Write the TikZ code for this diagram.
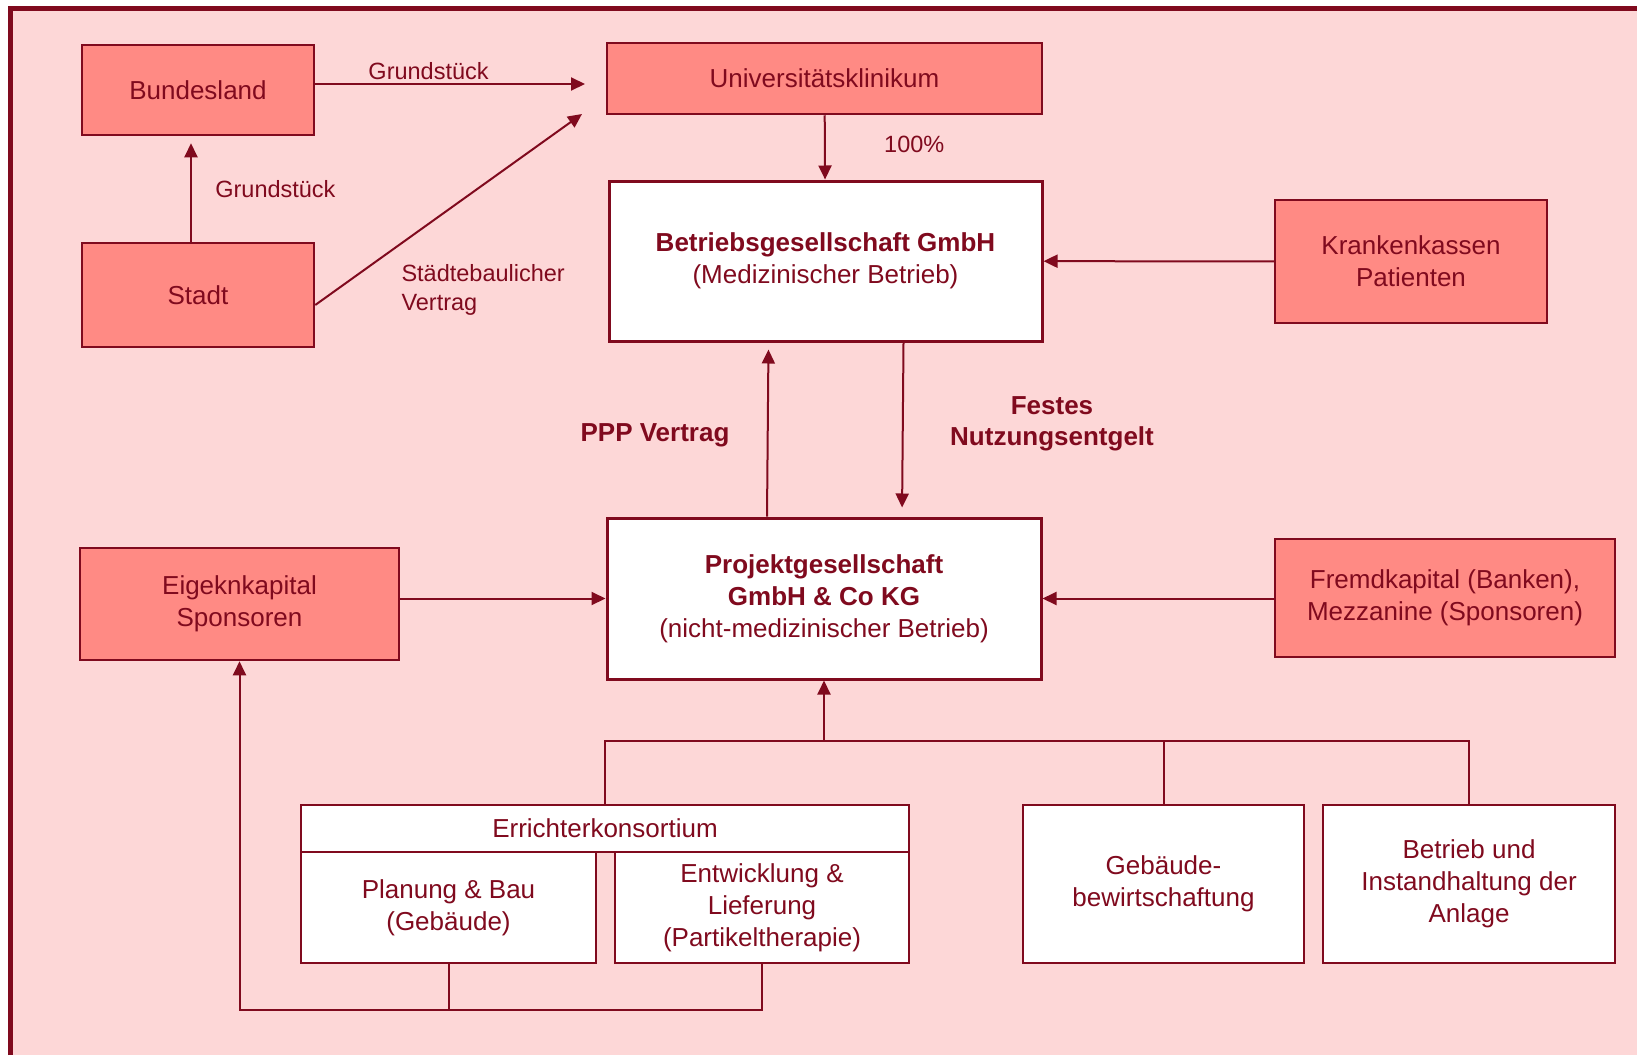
\documentclass[tikz,border=0pt]{standalone}
\usepackage{fontspec}
\setmainfont{Liberation Sans}
\usepackage{tikz}
\usetikzlibrary{arrows.meta}
\definecolor{ppink}{RGB}{253, 215, 215}
\definecolor{boxpink}{RGB}{255, 138, 132}
\definecolor{ppink-ink}{RGB}{128, 10, 30}

\begin{document}
\begin{tikzpicture}[x=1pt, y=-1pt,
    every node/.style={text=ppink-ink},
    partner/.style={draw=ppink-ink, fill=boxpink, line width=2.5pt, align=center, inner sep=0pt,
      font=\fontsize{26}{32}\selectfont},
    firm/.style={partner, fill=white, line width=3pt},
    task/.style={partner, fill=white, line width=2pt},
    flow/.style={draw=ppink-ink, line width=2pt, -{Triangle[length=14pt, width=13pt]}},
    link/.style={draw=ppink-ink, line width=2pt},
    note/.style={font=\fontsize{23.5}{29}\selectfont, align=left},
    keynote/.style={font=\bfseries\fontsize{26}{31}\selectfont, align=center}]
  \useasboundingbox (0,0) rectangle (1637,1055);
  \fill[ppink] (10,8) rectangle (1637,1055);
  \draw[ppink-ink, line width=5pt] (10,1055) -- (10,8) -- (1637,8);

  \node[partner, minimum width=232pt, minimum height=90pt] (bund) at (198,90) {Bundesland};
  \node[partner, minimum width=232pt, minimum height=104pt] (stadt) at (198,295) {Stadt};
  \node[partner, minimum width=435pt, minimum height=71pt] (uni) at (824.5,78.5) {Universitätsklinikum};
  \node[firm, minimum width=433pt, minimum height=160pt] (betr) at (825.5,261)
    {\textbf{Betriebsgesellschaft GmbH}\\(Medizinischer Betrieb)};
  \node[partner, minimum width=272pt, minimum height=123pt] (kasse) at (1411,261.5) {Krankenkassen\\Patienten};
  \node[firm, minimum width=434pt, minimum height=161pt] (proj) at (824,598.5)
    {\textbf{Projektgesellschaft}\\\textbf{GmbH \& Co KG}\\(nicht-medizinischer Betrieb)};
  \node[partner, minimum width=319pt, minimum height=112pt] (eigen) at (239.5,604) {Eigeknkapital\\Sponsoren};
  \node[partner, minimum width=340pt, minimum height=118pt] (fremd) at (1445,598)
    {Fremdkapital (Banken),\\Mezzanine (Sponsoren)};
  \node[task, minimum width=608pt, minimum height=47pt] (erricht) at (605,828.5) {Errichterkonsortium};
  \node[task, minimum width=295pt, minimum height=111pt] (plan) at (448.5,907.5) {Planung \& Bau\\(Gebäude)};
  \node[task, minimum width=294pt, minimum height=111pt] (entw) at (762,907.5)
    {Entwicklung \&\\Lieferung\\(Partikeltherapie)};
  \node[task, minimum width=281pt, minimum height=158pt] (geb) at (1163.5,884) {Gebäude-\\bewirtschaftung};
  \node[task, minimum width=292pt, minimum height=158pt] (anl) at (1469,884)
    {Betrieb und\\Instandhaltung der\\Anlage};

  \coordinate (tipA) at (585,84);
  \coordinate (tipB) at (582,114);
  \coordinate (bus) at (824,741);
  \coordinate (foot) at (448.5,1010);

  \draw[flow] (bund.east |- tipA) -- (tipA) node[note, pos=0.42, above=0pt] {Grundstück};
  \draw[flow, shorten >=7pt] ([xshift=-7pt]stadt.north) -- ([xshift=-7pt]bund.south)
    node[note, midway, right=20pt] {Grundstück};
  \draw[flow] ([yshift=-10pt]stadt.east) -- (tipB);
  \node[note, anchor=west] (vertrag) at (398,290) {Städtebaulicher\\Vertrag};
  \draw[flow] (uni) -- (betr) node[note, midway, right=55pt, yshift=3pt] {100\%};
  \draw[flow] (kasse) -- (betr);
  \draw[flow, shorten >=7pt] ([xshift=-57pt]proj.north) -- ([xshift=-57pt]betr.south);
  \draw[flow, shorten >=9pt] ([xshift=78pt]betr.south) -- ([xshift=78pt]proj.north);
  \node[keynote] (ppp) at (655,435) {PPP Vertrag};
  \node[keynote] (entgelt) at (1052,424) {Festes\\Nutzungsentgelt};
  \draw[flow] (eigen.east |- proj.west) -- (proj.west);
  \draw[flow] (fremd.west |- proj.east) -- (proj.east);

  \draw[link] (erricht.north) |- (anl.north |- bus) -- (anl.north);
  \draw[link] (geb.north) -- (geb.north |- bus);
  \draw[flow] (bus) -- (proj.south);
  \draw[link] (plan.south) -- (foot);
  \draw[flow] (entw.south) |- (foot) -| (eigen.south);
\end{tikzpicture}
\end{document}
